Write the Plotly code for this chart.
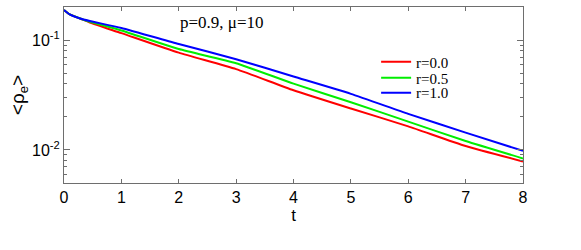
import plotly.graph_objects as go

t = [0, 0.1, 0.28, 0.45, 1, 2, 3, 4, 5, 6, 7, 8]
rho_r00 = [0.188, 0.171, 0.157, 0.1445, 0.1157, 0.0768, 0.0544, 0.0349, 0.0238, 0.0164, 0.01086, 0.00785]
rho_r05 = [0.188, 0.171, 0.157, 0.147, 0.1224, 0.0829, 0.0616, 0.0401, 0.0272, 0.0181, 0.01205, 0.00836]
rho_r10 = [0.188, 0.171, 0.157, 0.149, 0.129, 0.0920, 0.0670, 0.0466, 0.0324, 0.0213, 0.01436, 0.0098]

series = [
    ("r=0.0", rho_r00, "#ff0000", "legend"),
    ("r=0.5", rho_r05, "#00ee00", "legend2"),
    ("r=1.0", rho_r10, "#0000ff", "legend3"),
]

x_ticks = [0, 1, 2, 3, 4, 5, 6, 7, 8]
y_ticks = [0.01, 0.1]
y_ticktext = ["10<sup>-2</sup>", "10<sup>-1</sup>"]
y_minor = [0.006, 0.007, 0.008, 0.009,
           0.02, 0.03, 0.04, 0.05, 0.06, 0.07, 0.08, 0.09, 0.2]

fig = go.Figure()
for name, vals, col, leg in series:
    fig.add_trace(go.Scatter(
        x=t, y=vals, mode="lines", name=name, legend=leg, showlegend=True,
        line=dict(color=col, width=2, shape="spline", smoothing=0.5)
    ))

axis_col = "#6e6e6e"
fig.update_xaxes(
    range=[0, 8], tickvals=x_ticks, ticks="inside", ticklen=4,
    tickcolor=axis_col, showline=True, linecolor=axis_col, linewidth=1,
    mirror="ticks", showgrid=False, zeroline=False, automargin=False,
    tickfont=dict(family="Liberation Sans", size=16, color="black"),
    title=dict(text="t", font=dict(family="Liberation Sans", size=17, color="black"),
               standoff=0)
)
fig.update_yaxes(
    type="log", range=[-2.301, -0.699],
    tickvals=y_ticks, ticktext=y_ticktext, ticks="inside", ticklen=6,
    tickcolor=axis_col, showline=True, linecolor=axis_col, linewidth=1,
    mirror="allticks", showgrid=False, zeroline=False, automargin=False,
    minor=dict(tickvals=y_minor, ticks="inside", ticklen=3, tickcolor=axis_col),
    tickfont=dict(family="Liberation Sans", size=16, color="black"),
    title=dict(text="&lt;ρ<sub>e</sub>&gt;",
               font=dict(family="Liberation Sans", size=19, color="black"),
               standoff=2)
)
fig.add_annotation(
    x=0.248, y=0.91, xref="paper", yref="paper",
    xanchor="left", yanchor="middle", showarrow=False,
    text="p=0.9, μ=10",
    font=dict(family="Liberation Serif", size=17, color="black")
)

leg_font = dict(family="Liberation Serif", size=15, color="black")
leg_x = 0.68
fig.update_layout(
    width=581, height=250, showlegend=True,
    margin=dict(l=64, r=58, t=7, b=67),
    paper_bgcolor="white", plot_bgcolor="white",
    legend=dict(x=leg_x, y=0.688, xanchor="left", yanchor="middle",
                bgcolor="rgba(0,0,0,0)", font=leg_font, itemwidth=30),
    legend2=dict(x=leg_x, y=0.597, xanchor="left", yanchor="middle",
                 bgcolor="rgba(0,0,0,0)", font=leg_font, itemwidth=30),
    legend3=dict(x=leg_x, y=0.512, xanchor="left", yanchor="middle",
                 bgcolor="rgba(0,0,0,0)", font=leg_font, itemwidth=30),
)

fig.write_html("out.html", config={"displayModeBar": False},
               post_script="document.body.style.margin='0';")
